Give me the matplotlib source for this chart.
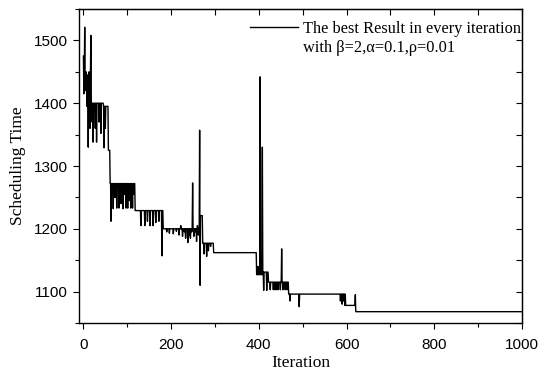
import numpy as np
import matplotlib
matplotlib.use("Agg")
import matplotlib.pyplot as plt
from matplotlib.ticker import MultipleLocator

# -------------- DATA ------------------------------------------------
n_iter = 1000

# plateau levels of the best result: (first iteration, scheduling time)
level_start = [0, 1, 18, 46, 57, 61, 118, 182, 267, 272, 297,
               395, 410, 422, 468, 598, 621]
level_value = [1475, 1445, 1400, 1395, 1325, 1272, 1229, 1200, 1221, 1177, 1162,
               1127, 1131, 1115, 1096, 1078, 1068]

# one-iteration excursions away from the plateau
spike_iter = [1, 3, 4, 6, 8, 9, 11, 13, 14, 15, 17, 20, 22, 25, 27, 30, 33, 36,
              40, 47, 50,
              63, 68, 72, 76, 81, 86, 90, 94, 97, 101, 104, 108, 112, 115,
              131, 140, 146, 152, 159, 165, 172, 179,
              190, 196, 205, 212, 218, 222, 226, 230, 233, 236, 238, 241, 244,
              247, 249, 252, 255, 258, 260, 262, 265, 266,
              275, 281, 285, 290,
              398, 403, 405, 408, 411, 418,
              426, 433, 437, 440, 444, 449, 452, 455, 460, 464,
              471, 492, 586, 590, 593, 596, 620]
spike_value = [1415, 1521, 1420, 1450, 1395, 1440, 1330, 1450, 1380, 1360, 1508,
               1370, 1338, 1400, 1360, 1338, 1400, 1370, 1352, 1329, 1360,
               1212, 1232, 1250, 1233, 1233, 1240, 1232, 1255, 1233, 1233, 1245,
               1233, 1233, 1255,
               1205, 1205, 1212, 1205, 1205, 1210, 1212, 1157,
               1195, 1193, 1192, 1196, 1190, 1205, 1188, 1195, 1185, 1200, 1178,
               1190, 1185, 1195, 1273, 1188, 1195, 1180, 1205, 1190, 1357, 1110,
               1160, 1156, 1165, 1172,
               1140, 1442, 1135, 1330, 1102, 1102,
               1103, 1103, 1103, 1103, 1103, 1103, 1168, 1103, 1103, 1103,
               1085, 1076, 1085, 1080, 1085, 1078, 1095]

legend_text = "The best Result in every iteration"
param_text = "with β=2,α=0.1,ρ=0.01"

# ── Build the per-iteration series ─────────────────────────
iteration = np.arange(n_iter + 1)
best = np.empty(n_iter + 1)
bounds = level_start + [n_iter + 1]
for i, v in enumerate(level_value):
    best[bounds[i]:bounds[i + 1]] = v
best[spike_iter] = spike_value

# ── Figure ────────────────────────────────────────────────
fig = plt.figure(figsize=(5.42, 3.76), dpi=100)
ax = fig.add_axes([0.1458, 0.141, 0.8173, 0.835])

ax.plot(iteration, best, color="black", linewidth=1.0, label=legend_text)

ax.set_xlim(-10, 1000)
ax.set_ylim(1050, 1550)
ax.xaxis.set_major_locator(MultipleLocator(200))
ax.xaxis.set_minor_locator(MultipleLocator(100))
ax.yaxis.set_major_locator(MultipleLocator(100))
ax.yaxis.set_minor_locator(MultipleLocator(50))

ax.tick_params(which="both", direction="out", width=0.8,
               labelsize=11, labelfontfamily="Liberation Sans")
ax.tick_params(which="major", length=4)
ax.tick_params(which="minor", length=3)
ax.tick_params(axis="x", which="major", pad=7)
ax.tick_params(axis="y", which="major", pad=4)

# mirrored ticks pointing inwards on top/right
top = ax.secondary_xaxis("top")
top.xaxis.set_major_locator(MultipleLocator(100))
top.tick_params(direction="in", length=4, width=0.8, labeltop=False)
right = ax.secondary_yaxis("right")
right.yaxis.set_major_locator(MultipleLocator(50))
right.tick_params(direction="in", length=4, width=0.8, labelright=False)

for sp in ax.spines.values():
    sp.set_linewidth(1.0)

ax.set_xlabel("Iteration", fontsize=12.5, family="Liberation Serif", labelpad=2)
ax.set_ylabel("Scheduling Time", fontsize=12.5, family="Liberation Serif", labelpad=6)

# ── Legend ─────────────────────────────────────────────────
ax.legend(loc="upper left", bbox_to_anchor=(0.386, 0.962), frameon=False,
          borderpad=0, borderaxespad=0, handlelength=2.93, handletextpad=0.3,
          prop={"family": "Liberation Serif", "size": 11.8})
ax.text(0.5056, 0.876, param_text, transform=ax.transAxes,
        fontsize=11.8, family="Liberation Serif", va="center", ha="left")

fig.savefig("out.png", dpi=100)
